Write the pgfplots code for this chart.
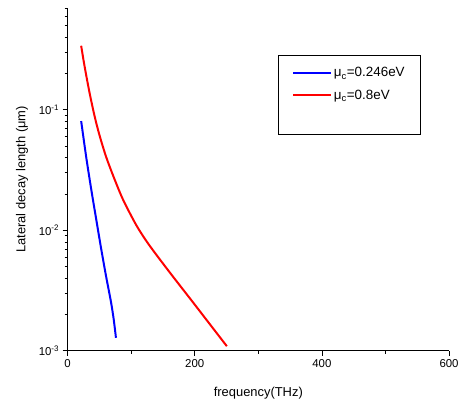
\documentclass[border=0pt]{standalone}
\usepackage{fontspec}
\setmainfont{Liberation Sans}
\usepackage{pgfplots}
\pgfplotsset{compat=1.18}

\begin{document}
\begin{tikzpicture}
\begin{semilogyaxis}[
    scale only axis,
    width=384pt, height=345pt,
    xmin=0, xmax=600, ymin=0.001, ymax=0.7,
    axis x line=bottom, axis y line=left,
    axis line style={-, line width=0.8pt},
    tick align=outside,
    tick style={black, line width=0.6pt},
    major tick length=5pt, minor tick length=3pt,
    xtick={0,200,400,600}, minor xtick={100,300,500},
    yticklabel={10\textsuperscript{\pgfmathparse{int(round(\tick/ln(10)))}\pgfmathresult}},
    /pgf/number format/assume math mode=true,
    ticklabel style={font=\fontsize{11.5}{13}\selectfont},
    label style={font=\fontsize{13}{15}\selectfont},
    xlabel={frequency(THz)},
    xlabel style={yshift=-13pt},
    ylabel={Lateral decay length (μm)},
    ylabel style={yshift=4pt},
    legend style={at={(axis cs:331,0.285)}, anchor=north west, draw=black,
        line width=0.6pt,
        font=\fontsize{13.5}{14}\selectfont, inner xsep=14pt, inner ysep=10pt,
        row sep=7pt},
    legend cell align=left,
    legend image code/.code={\draw[#1] (0pt,0pt) -- (38pt,0pt);},
]
\addplot[blue, line width=2pt, smooth, forget plot] coordinates {
(21.4,0.0806)(29.2,0.0409)(37.0,0.02224)(44.8,0.01257)(52.7,0.00710)(60.5,0.00417)(68.3,0.00254)(72.7,0.00180)(76.1,0.00128)
};
\addplot[red, line width=2pt, smooth, forget plot] coordinates {
(21.4,0.340)(26.6,0.232)(34.4,0.140)(42.2,0.0900)(50,0.0621)(60.5,0.0409)(73.4,0.0269)(86.4,0.01836)(99.5,0.01337)(110.9,0.0104)(128.1,0.00757)(159.4,0.00456)(195.8,0.00258)(221.9,0.00171)(250.5,0.00109)
};
\addlegendimage{blue, line width=2pt}
\addlegendentry{\strut μ\textsubscript{c}=0.246eV}
\addlegendimage{red, line width=2pt}
\addlegendentry{\strut μ\textsubscript{c}=0.8eV}
\addlegendimage{empty legend}\addlegendentry{\strut}
\end{semilogyaxis}
\pgfresetboundingbox
\path ([xshift=-68pt,yshift=-54pt]current axis.south west) rectangle ([xshift=11pt,yshift=8pt]current axis.north east);
\end{tikzpicture}
\end{document}
